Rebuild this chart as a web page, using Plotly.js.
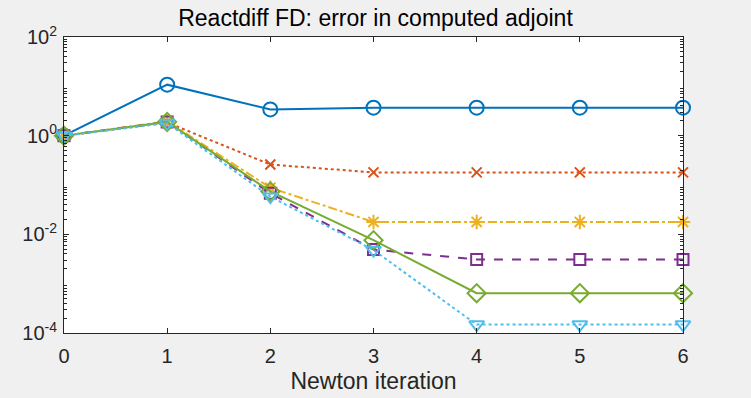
<!DOCTYPE html>
<html><head><meta charset="utf-8">
<script src="https://cdn.plot.ly/plotly-3.0.1.min.js"></script>
<style>html,body{margin:0;padding:0;background:#f0f0f0;}</style>
</head><body>
<div id="chart" style="width:751px;height:398px;"></div>
<script>
const iterations = [0, 1, 2, 3, 4, 5, 6];
const seriesA = [1, 10.8, 3.4, 3.7, 3.7, 3.7, 3.7];
const seriesB = [1, 1.85, 0.26, 0.18, 0.18, 0.18, 0.18];
const seriesC = [1, 1.95, 0.088, 0.0178, 0.0178, 0.0178, 0.0178];
const seriesD = [1, 1.9, 0.068, 0.0049, 0.0031, 0.0031, 0.0031];
const seriesE = [1, 1.9, 0.074, 0.0076, 0.00064, 0.00064, 0.00064];
const seriesF = [1, 1.8, 0.058, 0.0048, 0.000148, 0.000148, 0.000148];
const yTickVals = [1e-4, 1e-2, 1, 1e2];
const yTickText = ['10<sup>-4</sup>', '10<sup>-2</sup>', '10<sup>0</sup>', '10<sup>2</sup>'];

const minorVals = [];
for (let e = -4; e < 2; e++) for (let m = 2; m <= 9; m++) minorVals.push(m * Math.pow(10, e));

function tr(y, color, dash, symbol, size, width) {
  return {x: iterations, y: y, type: 'scatter', mode: 'lines+markers', cliponaxis: false,
    line: {color: color, dash: dash, width: width || 2},
    marker: {symbol: symbol, size: size, color: color, line: {color: color, width: 2}}};
}
const data = [
  tr(seriesA, '#0072BD', 'solid', 'circle-open', 14),
  tr(seriesB, '#D95319', 'dot', 'x-thin-open', 10),
  tr(seriesC, '#EDB120', 'dashdot', 'asterisk-open', 12),
  tr(seriesD, '#7E2F8E', 'dash', 'square-open', 11),
  tr(seriesE, '#77AC30', 'solid', 'diamond-open', 14),
  tr(seriesF, '#4DBEEE', 'dot', 'triangle-down-open', 13)
];
const layout = {
  width: 751, height: 398,
  paper_bgcolor: '#f0f0f0', plot_bgcolor: '#ffffff',
  margin: {l: 64, r: 68, t: 37, b: 65},
  showlegend: false,
  font: {family: 'Liberation Sans, Arial, sans-serif', color: '#262626', size: 20},
  title: {text: 'Reactdiff FD: error in computed adjoint', x: 0.5, xanchor: 'center', y: 0.955, yanchor: 'middle',
    font: {size: 23, color: '#000000'}},
  xaxis: {range: [0, 6], tickvals: iterations, ticks: 'inside', ticklen: 5, tickcolor: '#262626',
    showline: true, linecolor: '#262626', linewidth: 1, mirror: 'ticks', showgrid: false, zeroline: false,
    tickfont: {size: 20}, ticklabelstandoff: 5, title: {text: 'Newton iteration', font: {size: 23}, standoff: 6}},
  yaxis: {type: 'log', range: [-4, 2], tickvals: yTickVals, ticktext: yTickText, ticks: 'inside', ticklen: 5,
    tickcolor: '#262626', showline: true, linecolor: '#262626', linewidth: 1, mirror: 'ticks',
    showgrid: false, zeroline: false, tickfont: {size: 20}, ticklabelstandoff: 2,
    minor: {tickvals: minorVals, ticks: 'inside', ticklen: 3, tickcolor: '#262626', showgrid: false}}
};
Plotly.newPlot('chart', data, layout, {displayModeBar: false, staticPlot: true});
</script>
</body></html>
